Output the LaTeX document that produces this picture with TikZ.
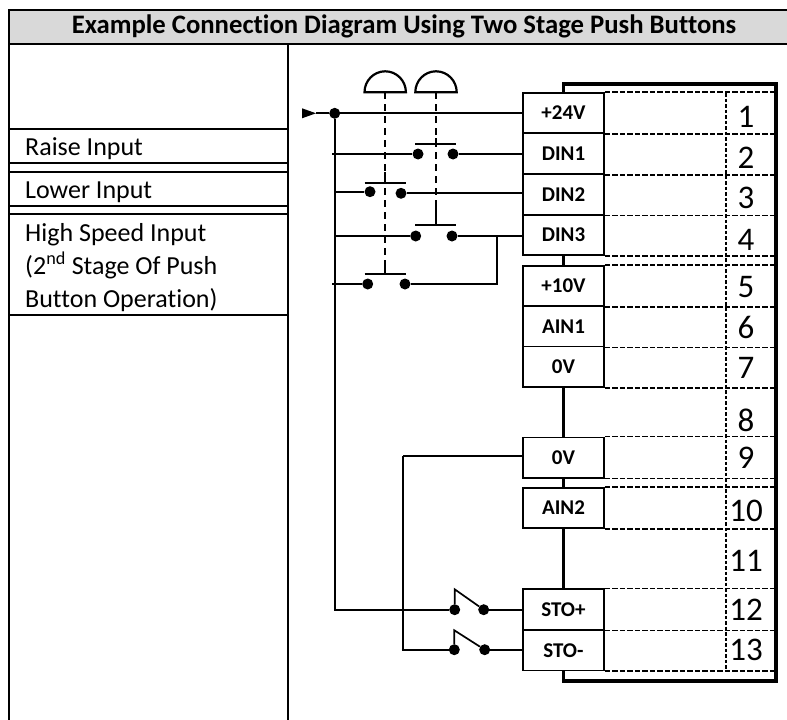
\documentclass[tikz,border=0pt]{standalone}
\usepackage{fontspec}
\setmainfont[Ligatures=NoCommon]{Carlito}
\usepackage{tikz}
\usetikzlibrary{calc,positioning}
\definecolor{titlegrey}{HTML}{D9D9D9}
\tikzset{
term/.style={draw,fill=white,line width=1.6pt,minimum width=81pt,minimum height=40.5pt,inner sep=0pt,font=\fontsize{21}{25}\selectfont\bfseries},
num/.style={inner sep=0pt,font=\fontsize{33}{38}\selectfont},
lab/.style={inner sep=0pt,anchor=base west,font=\fontsize{26}{33}\selectfont},
dot/.style={circle,fill=black,inner sep=0pt,minimum size=11pt},
wire/.style={line width=1.7pt},
grid/.style={line width=1.6pt,dash pattern=on 5.5pt off 2pt},
link/.style={line width=1.7pt,dash pattern=on 7pt off 5pt},
rule/.style={line width=2pt},
case/.style={line width=3.2pt}
}
\begin{document}
\begin{tikzpicture}[x=1pt,y=-1pt]
\useasboundingbox (0,0) rectangle (787,720);
% table
\fill[titlegrey] (9,10) rectangle (787,43.5);
\draw[rule] (787,10) -- (9,10) -- (9,720);
\draw[rule] (9,43.5) -- (787,43.5);
\draw[rule] (287.5,43.5) -- (287.5,720);
\foreach \y in {128.5,162.5,171.5,205.5,213.5,315}
\draw[rule] (9,\y) -- (287.5,\y);
\node[inner sep=0pt,font=\fontsize{26.7}{31}\selectfont\bfseries] (title) at (404,26.5) {Example Connection Diagram Using Two Stage Push Buttons};
\node[lab] (raise) at (25,155) {Raise Input};
\node[lab] (lower) at (25,198) {Lower Input};
\node[lab] (high1) at (25,241) {High Speed Input};
\node[lab] (high2) at (25,274) {(2\textsuperscript{nd} Stage Of Push};
\node[lab] (high3) at (25,307) {Button Operation)};
% terminals
\node[term] (p24) at (563.5,113) {+24V};
\node[term] (din1) at (563.5,153.7) {DIN1};
\node[term] (din2) at (563.5,194.5) {DIN2};
\node[term] (din3) at (563.5,235) {DIN3};
\node[term] (p10) at (563.5,286) {+10V};
\node[term] (ain1) at (563.5,326.5) {AIN1};
\node[term] (zeroa) at (563.5,366.7) {0V};
\node[term] (zerob) at (563.5,457.6) {0V};
\node[term] (ain2) at (563.5,508) {AIN2};
\node[term] (stop) at (563.5,609.5) {STO+};
\node[term] (stom) at (563.5,650.2) {STO-};
% case
\coordinate (ne) at (776,84);
\coordinate (se) at (776,681);
\draw[case] (p24.north) |- (ne) -- (se) -| (stom.south);
\draw[case] (din3.south) -- (p10.north);
\draw[case] (zeroa.south) -- (zerob.north);
\draw[case] (zerob.south) -- (ain2.north);
\draw[case] (ain2.south) -- (stop.north);
% rows
\foreach \t in {p24.north east,p24.south east,din1.south east,din2.south east,din3.south east,p10.north east,p10.south east,ain1.south east,zeroa.south east,zerob.north east,zerob.south east,ain2.north east,ain2.south east,stop.north east,stop.south east,stom.south east}
\draw[grid] (\t) -- (\t -| ne);
\coordinate (va) at (726,93);
\coordinate (vb) at (726,670.5);
\draw[line width=1.5pt,dash pattern=on 3.5pt off 2pt] (va) -- (vb);
\node[num] (n1) at (746,117) {1};
\node[num] (n2) at (746,158) {2};
\node[num] (n3) at (746,198) {3};
\node[num] (n4) at (746,240) {4};
\node[num] (n5) at (746,287) {5};
\node[num] (n6) at (746,327) {6};
\node[num] (n7) at (746,368) {7};
\node[num] (n8) at (746,420) {8};
\node[num] (n9) at (746,458) {9};
\node[num] (n10) at (746,511) {10};
\node[num] (n11) at (746,561) {11};
\node[num] (n12) at (746,610) {12};
\node[num] (n13) at (746,650) {13};
% supply
\node[dot] (d0) at (334.7,113.3) {};
\coordinate (s0) at (302,113.3);
\coordinate (s1) at (316,113.3);
\fill (s0) ++(0,-5) -- (s1) -- ++(-14,5) -- cycle;
\draw[wire] (s1) -- (d0);
\draw[wire] (d0) -- (d0 -| p24.west);
% raise
\node[dot] (a1) at (418,154) {};
\node[dot] (a2) at (453,154) {};
\coordinate (a0) at (332,154);
\draw[wire] (a0) -- (a1);
\draw[wire] (a2) -- (a2 -| din1.west);
% lower
\node[dot] (b1) at (370,191.7) {};
\node[dot] (b2) at (401,193.3) {};
\coordinate (b0) at (334.7,191.7);
\draw[wire] (b0) -- (b1);
\draw[wire] (b2) -- (b2 -| din2.west);
% high speed
\node[dot] (c1) at (415.7,236) {};
\node[dot] (c2) at (452,236) {};
\coordinate (c0) at (334.7,236);
\coordinate (j) at (496.7,236);
\draw[wire] (c0) -- (c1);
\draw[wire] (c2) -- (c2 -| din3.west);
\node[dot] (e1) at (367.7,284) {};
\node[dot] (e2) at (405,284) {};
\coordinate (e0) at (332,284);
\draw[wire] (e0) -- (e1);
\draw[wire] (e2) -| (j);
% push buttons
\coordinate (h1) at (385,92.3);
\coordinate (h2) at (435.7,92.3);
\draw[line width=2.2pt] (364.5,92.3) arc[start angle=180,end angle=360,x radius=20.7,y radius=21] -- cycle;
\draw[line width=2.2pt] (415.3,92.3) arc[start angle=180,end angle=360,x radius=20.7,y radius=21] -- cycle;
\coordinate (t1) at (385,182.7);
\coordinate (t2) at (385,274);
\coordinate (t3) at (435.7,144.3);
\coordinate (t4) at (435.7,224.7);
\draw[link] (h1) -- (t2);
\draw[link] (h2) -- (t4);
\draw[wire] ($(t1)+(-20.5,0)$) -- ($(t1)+(20.5,0)$);
\draw[wire] (t1) -- ++(0,-10.7);
\draw[wire] ($(t2)+(-20.5,0)$) -- ($(t2)+(20.5,0)$);
\draw[wire] (t2) -- ++(0,-11);
\draw[wire] ($(t3)+(-20.5,0)$) -- ($(t3)+(20.5,0)$);
\draw[wire] (t3) -- ++(0,-6.5);
\draw[wire] ($(t4)+(-20.5,0)$) -- ($(t4)+(20.5,0)$);
\draw[wire] (t4) -- ++(0,-18);
% safe torque off
\node[dot] (f1) at (454.7,609.7) {};
\node[dot] (f2) at (483.7,609.7) {};
\node[dot] (g1) at (454.3,649.7) {};
\node[dot] (g2) at (484.7,649.7) {};
\coordinate (f0) at (454.7,589.3);
\coordinate (g0) at (454.3,630.3);
\coordinate (z0) at (403,456.3);
\coordinate (z1) at (401.7,649.7);
\draw[wire] (d0) |- (f1);
\draw[wire] (f2) -- (f2 -| stop.west);
\draw[wire] (f1) -- (f0) -- (f2);
\draw[wire] (z0) -- (z0 -| zerob.west);
\draw[wire] (z0) -- (z0 |- z1);
\draw[wire] (z1) -- (g1);
\draw[wire] (g2) -- (g2 -| stom.west);
\draw[wire] (g1) -- (g0) -- (g2);
\end{tikzpicture}
\end{document}
